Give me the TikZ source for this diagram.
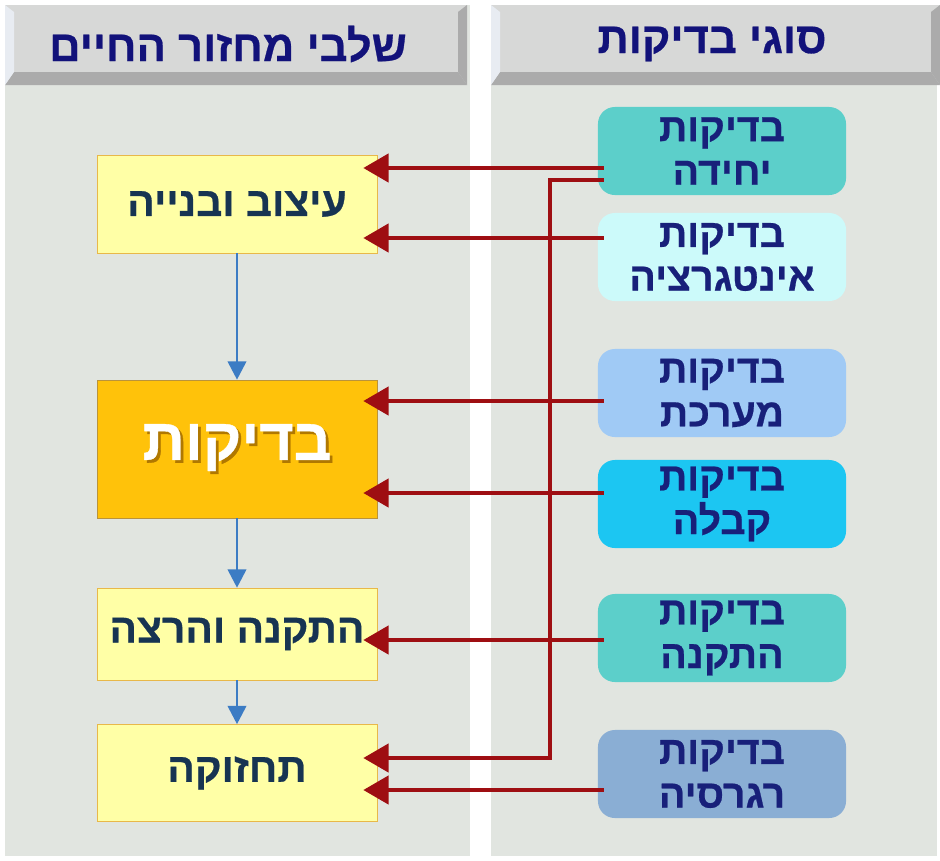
\documentclass[tikz,border=0pt]{standalone}
\usepackage{fontspec}
\setmainfont{Liberation Sans}
\newfontfamily\hebfont[Script=Hebrew, BoldFeatures={FakeBold=0.6}]{Liberation Sans}
\TeXXeTstate=1
\usetikzlibrary{arrows.meta,positioning}
\definecolor{panelbg}{HTML}{E1E5E0}
\definecolor{hdrtop}{HTML}{D7D8D7}
\definecolor{hdrshade}{HTML}{ABABAB}
\definecolor{hdrlit}{HTML}{E8ECF2}
\definecolor{hdrtext}{HTML}{12127A}
\definecolor{stagefill}{HTML}{FFFFA6}
\definecolor{stageedge}{HTML}{E8B84A}
\definecolor{stagetext}{HTML}{173452}
\definecolor{mainfill}{HTML}{FFC20A}
\definecolor{mainshadow}{HTML}{B07800}
\definecolor{kindtext}{HTML}{18207A}
\definecolor{flowblue}{HTML}{3C7CC4}
\definecolor{feedred}{HTML}{9E0E12}
\definecolor{tealbox}{HTML}{5CCFCA}
\definecolor{icebox}{HTML}{CCFAFA}
\definecolor{skybox}{HTML}{A0CAF5}
\definecolor{cyanbox}{HTML}{1CC6F2}
\definecolor{steelbox}{HTML}{8AAED4}

\begin{document}
\begin{tikzpicture}[x=0.025cm, y=-0.025cm,
    panel/.style={fill=panelbg},
    header/.style={text=hdrtext, font=\hebfont\bfseries\fontsize{31}{33}\selectfont},
    stage/.style={draw=stageedge, fill=stagefill, minimum width=7cm, text=stagetext, font=\hebfont\bfseries\fontsize{29}{31}\selectfont},
    kind/.style={rounded corners=12pt, minimum width=6.2cm, minimum height=2.2cm, align=center, text=kindtext, font=\hebfont\bfseries\fontsize{28}{31}\selectfont},
    flow/.style={-{Triangle[length=13pt,width=13pt]}, line width=2pt, draw=flowblue},
    feed/.style={-{Triangle[length=18pt,width=20pt]}, line width=3pt, draw=feedred, shorten >=-0.35cm, shorten <=-0.15cm}
]
\useasboundingbox (0,0) rectangle (940,861);
\fill[white] (0,0) rectangle (940,861);
\fill[panel] (5,5) rectangle (470,856);
\fill[panel] (491,5) rectangle (937,856);

\foreach \xa/\xb in {5/467, 491/940} {
  \fill[hdrtop] (\xa,5) rectangle (\xb,85);
  \fill[hdrshade] (\xa,85) -- (\xa+9,72) -- (\xb-9,72) -- (\xb,85) -- cycle;
  \fill[hdrshade] (\xb,5) -- (\xb-9,12) -- (\xb-9,72) -- (\xb,85) -- cycle;
  \fill[hdrlit] (\xa,5) -- (\xa+9,12) -- (\xa+9,72) -- (\xa,85) -- cycle;
}
\node[header] (hstages) at (228,44) {\beginR שלבי מחזור החיים\endR};
\node[header] (hkinds) at (712,44) {\beginR סוגי בדיקות\endR};

\node[stage, minimum height=2.45cm] (design) at (237,204) {\beginR עיצוב ובנייה\endR};
\node[stage, minimum height=3.45cm, draw=stageedge!80!black, fill=mainfill, font=\hebfont\bfseries\fontsize{42}{44}\selectfont] (testing) at (237,449)
  {\setbox0\hbox{\beginR בדיקות\endR}\rlap{\color{mainshadow}\raise-2pt\hbox{\kern2pt\copy0}}\color{white}\box0};
\node[stage, minimum height=2.3cm] (install) at (237,634) {\beginR התקנה והרצה\endR};
\node[stage, minimum height=2.425cm] (maintain) at (237,773) {\beginR תחזוקה\endR};

\node[kind, fill=tealbox] (unit) at (722,151) {\beginR בדיקות\endR\\\beginR יחידה\endR};
\node[kind, fill=icebox] (integ) at (722,257) {\beginR בדיקות\endR\\\beginR אינטגרציה\endR};
\node[kind, fill=skybox] (system) at (722,393) {\beginR בדיקות\endR\\\beginR מערכת\endR};
\node[kind, fill=cyanbox] (accept) at (722,504) {\beginR בדיקות\endR\\\beginR קבלה\endR};
\node[kind, fill=tealbox] (setup) at (722,638) {\beginR בדיקות\endR\\\beginR התקנה\endR};
\node[kind, fill=steelbox] (regress) at (722,774) {\beginR בדיקות\endR\\\beginR רגרסיה\endR};

\draw[flow] (design) -- (testing);
\draw[flow] (testing) -- (install);
\draw[flow] (install) -- (maintain);

\coordinate (turn) at (550,758);
\draw[feed] (unit.west |- 0,168) -- (design.east |- 0,168);
\draw[feed] (integ.west |- 0,238) -- (design.east |- 0,238);
\draw[feed] (system.west |- 0,401) -- (testing.east |- 0,401);
\draw[feed] (accept.west |- 0,493) -- (testing.east |- 0,493);
\draw[feed] (setup.west |- 0,640) -- (install.east |- 0,640);
\draw[feed] (regress.west |- 0,790) -- (maintain.east |- 0,790);
\draw[feed] (unit.west |- 0,180) -| (turn) -- (maintain.east |- turn);
\end{tikzpicture}
\end{document}
